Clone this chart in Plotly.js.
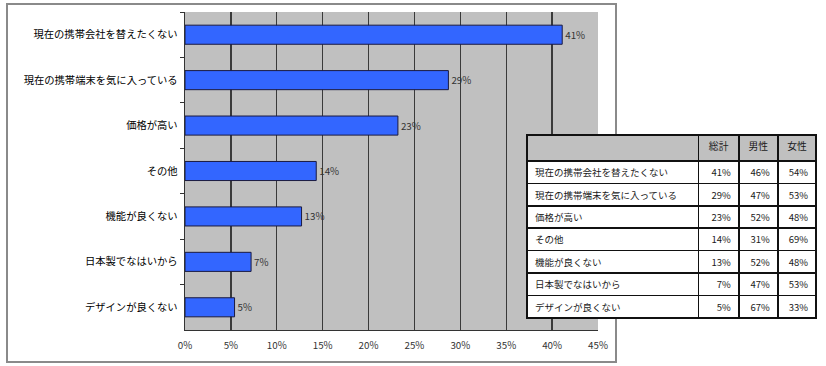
<!DOCTYPE html>
<html>
<head>
<meta charset="utf-8">
<script src="https://cdn.plot.ly/plotly-3.0.1.min.js"></script>
<style>html,body{margin:0;padding:0;background:#fff;}#chart{width:826px;height:366px;}</style>
</head>
<body>
<div id="chart"></div>
<script>
// Reasons (categories), top to bottom
var categories = ["現在の携帯会社を替えたくない","現在の携帯端末を気に入っている","価格が高い","その他","機能が良くない","日本製でなはいから","デザインが良くない"];
// Bar lengths (percent)
var barValues = [41.1, 28.7, 23.2, 14.3, 12.7, 7.2, 5.4];
// Table columns (percent)
var totalPct = [41, 29, 23, 14, 13, 7, 5];
var malePct = [46, 47, 52, 31, 52, 47, 67];
var femalePct = [54, 53, 48, 69, 48, 53, 33];
var tableHeader = ["", "総計", "男性", "女性"];
var xTicks = [0, 5, 10, 15, 20, 25, 30, 35, 40, 45];

var W = 826, H = 366;
var FONT = "Noto Sans CJK JP, Noto Sans, sans-serif";

var bars = {
  type: "bar",
  orientation: "h",
  y: categories,
  x: barValues,
  width: 0.42,
  marker: {color: "#3366ff", line: {color: "#1a1a40", width: 1}},
  text: totalPct.map(function(v){return v + "%";}),
  textposition: "outside",
  textfont: {family: FONT, size: 9.8, color: "#333"},
  cliponaxis: false,
  hoverinfo: "none",
  xaxis: "x", yaxis: "y"
};

var table = {
  type: "table",
  domain: {x: [527/W, 816/W], y: [1 - 321/H, 1 - 135/H]},
  columnwidth: [171, 40, 39, 38],
  header: {
    values: tableHeader,
    align: "center",
    height: 26,
    fill: {color: "#c0c0c0"},
    line: {color: "#111", width: 1.6},
    font: {family: FONT, size: 9.8, color: "#1a1a1a"}
  },
  cells: {
    values: [categories, totalPct, malePct, femalePct],
    suffix: ["", "%", "%", "%"],
    align: ["left", "right", "right", "right"],
    height: 22.4,
    fill: {color: "#ffffff"},
    line: {color: "#111", width: 1.6},
    font: {family: FONT, size: 9.5, color: "#1a1a1a"}
  }
};

var layout = {
  width: W, height: H,
  margin: {l: 0, r: 0, t: 0, b: 0},
  paper_bgcolor: "#ffffff",
  plot_bgcolor: "#c0c0c0",
  showlegend: false,
  font: {family: FONT, color: "#222"},
  xaxis: {
    domain: [185/W, 598/W],
    range: [0, 45],
    tickvals: xTicks,
    ticktext: xTicks.map(function(v){return v + "%";}),
    showgrid: true, gridcolor: "#3a3a3a", gridwidth: 1.3,
    showline: true, linecolor: "#333", linewidth: 1.3,
    zeroline: false,
    ticks: "", ticklabelstandoff: 6,
    tickfont: {family: FONT, size: 9.8, color: "#333"},
    fixedrange: true
  },
  yaxis: {
    domain: [1 - 330/H, 1 - 12/H],
    type: "category",
    autorange: "reversed",
    showgrid: false,
    showline: true, linecolor: "#333", linewidth: 1.3,
    ticks: "outside", tickson: "boundaries", ticklen: 4, tickcolor: "#333",
    tickfont: {family: FONT, size: 10.3, color: "#000"},
    ticklabelstandoff: 4,
    fixedrange: true
  },
  shapes: [{
    type: "rect", xref: "paper", yref: "paper",
    x0: 7/W, x1: 616/W, y0: 1 - 362/H, y1: 1 - 4/H,
    line: {color: "#8a8a8a", width: 2}, layer: "below"
  }]
};

Plotly.newPlot("chart", [bars, table], layout, {displayModeBar: false, staticPlot: true});
</script>
</body>
</html>
